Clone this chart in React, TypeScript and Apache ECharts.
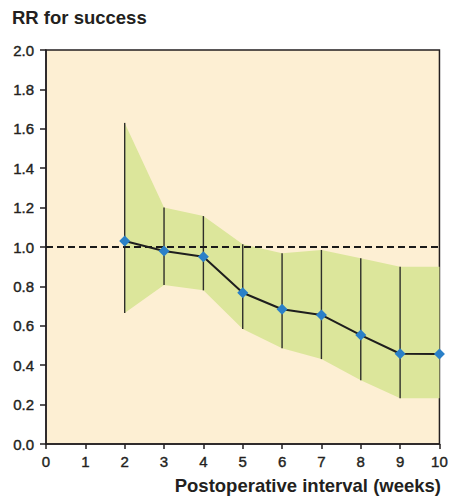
import React, { useEffect, useRef } from "react";
import * as echarts from "echarts";

const weeks = [2, 3, 4, 5, 6, 7, 8, 9, 10];
const rr = [1.03, 0.98, 0.95, 0.768, 0.684, 0.655, 0.553, 0.458, 0.457];
const upper = [1.63, 1.2, 1.157, 1.014, 0.968, 0.985, 0.943, 0.9, 0.9];
const lower = [0.665, 0.807, 0.78, 0.584, 0.486, 0.431, 0.323, 0.232, 0.232];
const whiskerWeeks = [2, 3, 4, 5, 6, 7, 8, 9];
const refValue = 1.0;

const TEXT = "#231f20";
const FONT = "Liberation Sans, Arial, sans-serif";

export default function App() {
  const ref = useRef<HTMLDivElement>(null);
  useEffect(() => {
    if (!ref.current) return;
    const chart = echarts.init(ref.current, null, { renderer: "svg" });
    const bandPoints = () => {
      const pts: number[][] = [];
      weeks.forEach((w, i) => pts.push([w, upper[i]]));
      for (let i = weeks.length - 1; i >= 0; i--) pts.push([weeks[i], lower[i]]);
      return pts;
    };
    const tickLabel = {
      color: TEXT,
      fontSize: 15,
      fontFamily: FONT,
      textBorderColor: TEXT,
      textBorderWidth: 0.4,
    };
    chart.setOption({
      animation: false,
      grid: {
        left: 46,
        top: 50,
        right: 9.5,
        bottom: 53,
        show: true,
        backgroundColor: "#fdefd3",
        borderColor: TEXT,
        borderWidth: 1.5,
      },
      graphic: [
        {
          type: "text",
          left: 12,
          top: 8,
          style: { text: "RR for success", fontSize: 18.5, fontWeight: 600, fontFamily: FONT, fill: TEXT },
        },
        {
          type: "text",
          right: 10,
          top: 476,
          style: { text: "Postoperative interval (weeks)", fontSize: 18.5, fontWeight: 600, fontFamily: FONT, fill: TEXT },
        },
      ],
      xAxis: {
        type: "value",
        min: 0,
        max: 10,
        interval: 1,
        splitLine: { show: false },
        axisLine: { show: true, lineStyle: { color: TEXT, width: 1.5 } },
        axisTick: { show: true, length: 5, lineStyle: { color: TEXT, width: 1.5 } },
        axisLabel: { ...tickLabel, margin: 10 },
      },
      yAxis: {
        type: "value",
        min: 0,
        max: 2,
        interval: 0.2,
        splitLine: { show: false },
        axisLine: { show: true, lineStyle: { color: TEXT, width: 1.5 } },
        axisTick: { show: true, length: 6, lineStyle: { color: TEXT, width: 1.5 } },
        axisLabel: {
          ...tickLabel,
          margin: 12,
          formatter: (v: number) => v.toFixed(1),
        },
      },
      series: [
        {
          type: "custom",
          z: 1,
          data: [0],
          silent: true,
          renderItem: (params: any, api: any) => ({
            type: "polygon",
            shape: { points: bandPoints().map((p) => api.coord(p)) },
            style: { fill: "#dce69b" },
          }),
        },
        {
          type: "custom",
          z: 2,
          silent: true,
          data: whiskerWeeks.map((w) => {
            const i = weeks.indexOf(w);
            return [w, lower[i], upper[i]];
          }),
          renderItem: (params: any, api: any) => {
            const a = api.coord([api.value(0), api.value(1)]);
            const b = api.coord([api.value(0), api.value(2)]);
            return {
              type: "line",
              shape: { x1: a[0], y1: a[1], x2: b[0], y2: b[1] },
              style: { stroke: "#2e2e2a", lineWidth: 1.4 },
            };
          },
        },
        {
          type: "line",
          z: 5,
          data: weeks.map((w, i) => [w, rr[i]]),
          symbol: "diamond",
          symbolSize: 11,
          itemStyle: { color: "#2a80c8" },
          lineStyle: { color: "#1e1e1e", width: 2 },
          markLine: {
            silent: true,
            symbol: "none",
            label: { show: false },
            lineStyle: { color: "#1a1a1a", type: [7, 4], width: 2 },
            data: [{ yAxis: refValue }],
            z: 3,
          },
        },
      ],
    });
    return () => chart.dispose();
  }, []);
  return <div ref={ref} style={{ width: 451, height: 497, position: "absolute", left: 0, top: 0 }} />;
}
